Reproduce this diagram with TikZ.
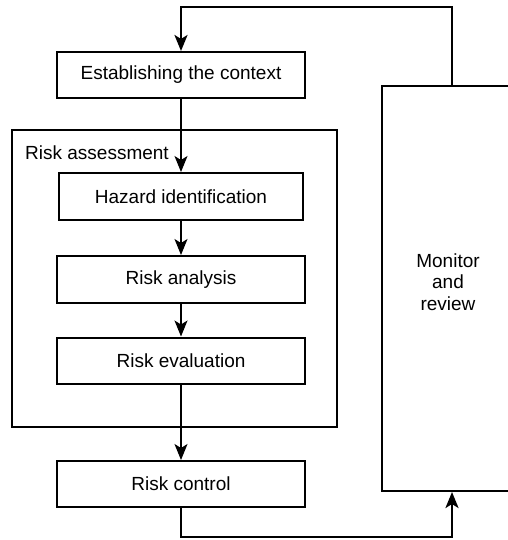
\documentclass[tikz,border=0pt]{standalone}
\usepackage{fontspec}
\setmainfont{Liberation Sans}
\usetikzlibrary{arrows.meta}
\begin{document}
\begin{tikzpicture}[x=1pt,y=-1pt,
    box/.style={draw,line width=2pt,minimum width=248pt,minimum height=46pt,inner sep=0pt,font=\fontsize{19}{21.5}\selectfont},
    flow/.style={line width=1.3pt,-{Stealth[length=16pt,width=13pt,inset=4pt]}},
    loop/.style={line width=2.5pt,-{Stealth[length=16pt,width=13pt,inset=4pt]}}]
    \useasboundingbox[fill=white] (0,0) rectangle (507,540);
    % outer box and the steps
    \node[box,minimum width=325pt,minimum height=297pt] (assess) at (174.5,278.5) {};
    \node[anchor=west,inner sep=0pt,font=\fontsize{19}{21.5}\selectfont] (assesslbl) at (25,153) {Risk assessment};
    \node[box] (context) at (181,75) {Establishing the context};
    \node[box,minimum width=244pt,minimum height=47pt] (hazard) at (181,196.5) {Hazard identification};
    \node[box,minimum height=47pt] (analysis) at (181,279.5) {Risk analysis};
    \node[box] (evaluation) at (181,360.5) {Risk evaluation};
    \node[box] (control) at (181,484) {Risk control};
    \node[box,minimum width=132pt,minimum height=405pt] (monitor) at (448,288.5) {};
    \node[align=center,inner sep=0pt,font=\fontsize{19}{21.5}\selectfont] (monitorlbl) at (448,282) {Monitor\\and\\review};
    \draw[flow] (context) -- (hazard);
    \draw[flow] (hazard) -- (analysis);
    \draw[flow] (analysis) -- (evaluation);
    \draw[flow] (evaluation) -- (control);
    % feedback loop
    \coordinate (looptop) at (452,7);
    \coordinate (loopbot) at (452,537);
    \draw[loop] (monitor.north -| looptop) -- (looptop) -| (context.north);
    \draw[loop] (control.south) |- (loopbot) -- (monitor.south -| loopbot);
\end{tikzpicture}
\end{document}
